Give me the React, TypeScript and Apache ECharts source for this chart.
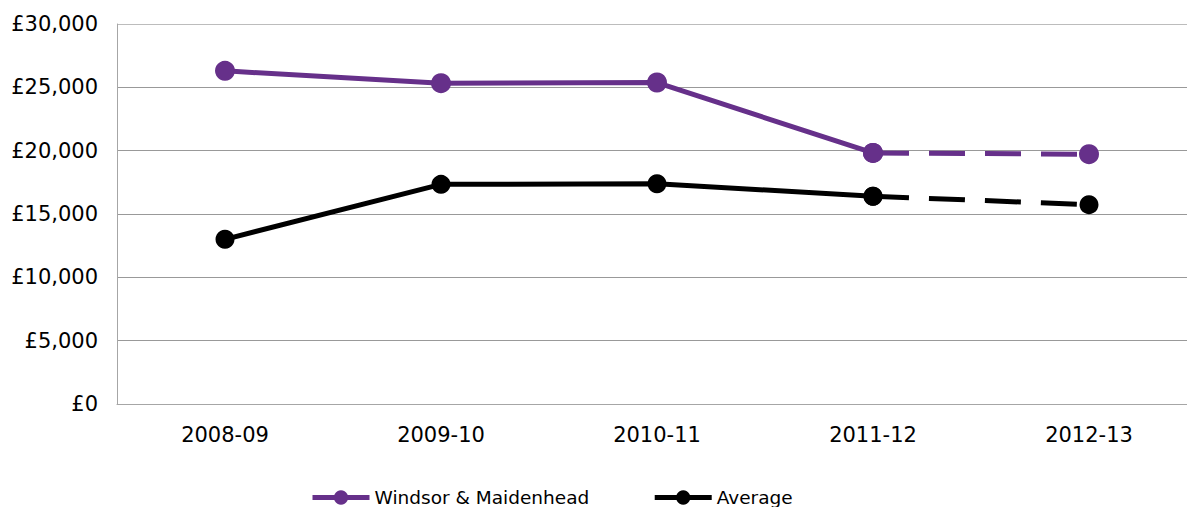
import React, { useEffect, useRef } from "react";
import * as echarts from "echarts";

const categories = ["2008-09", "2009-10", "2010-11", "2011-12", "2012-13"];
const windsorSolid = [26300, 25330, 25380, 19820, null];
const windsorDashed = [null, null, null, 19820, 19720];
const averageSolid = [13000, 17340, 17390, 16400, null];
const averageDashed = [null, null, null, 16400, 15740];
const yTicks = [0, 5000, 10000, 15000, 20000, 25000, 30000];

const PURPLE = "#66308A";
const BLACK = "#000000";
const FONT = "DejaVu Sans";

export default function App() {
  const ref = useRef<HTMLDivElement>(null);
  useEffect(() => {
    if (!ref.current) return;
    const chart = echarts.init(ref.current, null, { renderer: "svg" });
    chart.setOption({
      animation: false,
      backgroundColor: "#ffffff",
      grid: { left: 117, top: 24, width: 1080, height: 380, containLabel: false },
      legend: {
        data: ["Windsor & Maidenhead", "Average"],
        left: 310,
        top: 488,
        padding: 0,
        itemWidth: 57,
        itemHeight: 18,
        itemGap: 63,
        lineStyle: { width: 5 },
        textStyle: { fontFamily: FONT, fontSize: 18.5, color: "#000" },
      },
      xAxis: {
        type: "category",
        data: categories,
        boundaryGap: true,
        axisLine: { lineStyle: { color: "#a6a6a6", width: 1 } },
        axisTick: { show: false },
        axisLabel: { fontFamily: FONT, fontSize: 21, color: "#000", margin: 20 },
      },
      yAxis: {
        type: "value",
        min: yTicks[0],
        max: yTicks[yTicks.length - 1],
        interval: 5000,
        axisLine: { show: true, lineStyle: { color: "#a6a6a6", width: 1 } },
        axisTick: { show: false },
        splitLine: {
          lineStyle: {
            color: ["#a6a6a6", "#999999", "#999999", "#999999", "#999999", "#999999", "#bcbcbc"],
            width: 1,
          },
        },
        axisLabel: {
          fontFamily: FONT,
          fontSize: 21,
          color: "#000",
          margin: 19,
          formatter: (v: number) => "£" + v.toLocaleString("en-GB"),
        },
      },
      series: [
        {
          name: "Windsor & Maidenhead",
          type: "line",
          data: windsorSolid,
          color: PURPLE,
          symbol: "circle",
          symbolSize: 20,
          lineStyle: { color: PURPLE, width: 5 },
          itemStyle: { color: PURPLE },
          z: 3,
        },
        {
          name: "Windsor dashed",
          type: "line",
          data: windsorDashed,
          color: PURPLE,
          symbol: "circle",
          symbolSize: 20,
          lineStyle: { color: PURPLE, width: 5, type: [36, 20] },
          itemStyle: { color: PURPLE },
          z: 3,
        },
        {
          name: "Average",
          type: "line",
          data: averageSolid,
          color: BLACK,
          symbol: "circle",
          symbolSize: 19,
          lineStyle: { color: BLACK, width: 5 },
          itemStyle: { color: BLACK },
          z: 2,
        },
        {
          name: "Average dashed",
          type: "line",
          data: averageDashed,
          color: BLACK,
          symbol: "circle",
          symbolSize: 19,
          lineStyle: { color: BLACK, width: 5, type: [36, 20] },
          itemStyle: { color: BLACK },
          z: 2,
        },
      ],
    });
    return () => chart.dispose();
  }, []);
  return (
    <div
      style={{
        position: "absolute",
        left: 0,
        top: 0,
        width: 1187,
        height: 507,
        overflow: "hidden",
        background: "#fff",
      }}
    >
      <div ref={ref} style={{ width: 1197, height: 507 }} />
    </div>
  );
}
